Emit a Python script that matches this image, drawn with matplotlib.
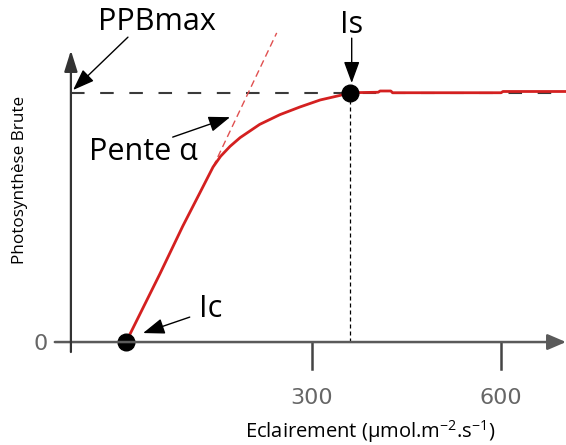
import matplotlib.pyplot as plt

plt.rcParams['font.family'] = ['Open Sans', 'DejaVu Sans']
plt.rcParams['mathtext.fontset'] = 'custom'
plt.rcParams['mathtext.rm'] = 'Open Sans'

# light response curve (schematic), x in umol.m-2.s-1, y in % of PPBmax
light = [5, 59, 95, 122, 143, 155, 170, 186, 217, 249, 281, 313, 344, 360,
         405, 408, 425, 428, 600, 603, 703]
photo = [0, 27.5, 46.5, 59.8, 70.2, 74.5, 78.5, 82.0, 87.3, 91.2, 94.3, 97.1, 98.9, 100,
         100.2, 100.7, 100.7, 100, 100, 100.5, 100.5]
tangent_x = [143, 244]
tangent_y = [70.2, 124]
Ic = (5, 0)
Is = (360, 100)
ppb_max = 100
xticks = [300, 600]

fig = plt.figure(figsize=(5.66, 4.45), dpi=100)
ax = fig.add_axes([0, 0, 1, 1])
ax.set_xlim(-195, 703)
ax.set_ylim(-41.3, 137.2)
ax.axis('off')

axis_col = '#5a5a5a'
y_axis_x = -82.5
ax.annotate('', xy=(703, 0), xytext=(-108, 0),
            arrowprops=dict(arrowstyle='-|>,head_length=0.7,head_width=0.3',
                            color=axis_col, lw=1.8, mutation_scale=16, shrinkA=0, shrinkB=0))
ax.annotate('', xy=(y_axis_x, 117), xytext=(y_axis_x, -4),
            arrowprops=dict(arrowstyle='-|>,head_length=0.8,head_width=0.25',
                            color='#333333', lw=1.6, mutation_scale=16, shrinkA=0, shrinkB=0))
for t in xticks:
    ax.plot([t, t], [-0.4, -10.8], color='#444444', lw=1.8)
    ax.text(t, -24.9, str(t), ha='center', va='baseline', fontsize=16, color='#666666',
            family='DejaVu Sans')
ax.text(-130, -3.2, '0', ha='center', va='baseline', fontsize=16, color='#666666',
        family='DejaVu Sans')

# PPBmax and Is guides
ax.plot([y_axis_x, 703], [ppb_max, ppb_max], color='#3a3a3a', lw=1.5, dashes=(6.5, 7.5))
ax.plot([Is[0], Is[0]], [0, Is[1]], color='black', lw=0.9, dashes=(3.2, 2.4))

# tangent and curve
ax.plot(tangent_x, tangent_y, color='#e05050', lw=1.0, dashes=(5, 3))
ax.plot(light, photo, color='#d42020', lw=2.0)
ax.plot([Ic[0], Is[0]], [Ic[1], Is[1]], 'o', color='black', ms=12, ls='none')

arrow = dict(arrowstyle='-|>,head_length=0.6,head_width=0.22', color='black', lw=1.0,
             mutation_scale=22, shrinkA=0, shrinkB=0)
ax.text(54, 125.1, 'PPBmax', fontsize=22, ha='center', va='baseline')
ax.annotate('', xy=(-79, 101.1), xytext=(8, 122.3), arrowprops=arrow)
ax.text(32, 73.0, 'Pente α', fontsize=22, ha='center', va='baseline')
ax.annotate('', xy=(170, 90.2), xytext=(79, 82.2), arrowprops=arrow)
ax.text(363, 123.9, 'Is', fontsize=22, ha='center', va='baseline')
ax.annotate('', xy=(363, 103.9), xytext=(363, 121.9), arrowprops=arrow)
ax.text(140, 10.0, 'Ic', fontsize=22, ha='center', va='baseline')
ax.annotate('', xy=(32, 3.6), xytext=(106, 10), arrowprops=arrow)

ax.text(-163, 65, 'Photosynthèse Brute', rotation=90, ha='center', va='center',
        fontsize=12.3, color='black')
ax.text(392, -38.5, 'Eclairement (µmol.m$^{\\mathregular{-2}}$.s$^{\\mathregular{-1}}$)',
        ha='center', va='baseline', fontsize=14.5, color='black')

fig.savefig('out.png', dpi=100)
